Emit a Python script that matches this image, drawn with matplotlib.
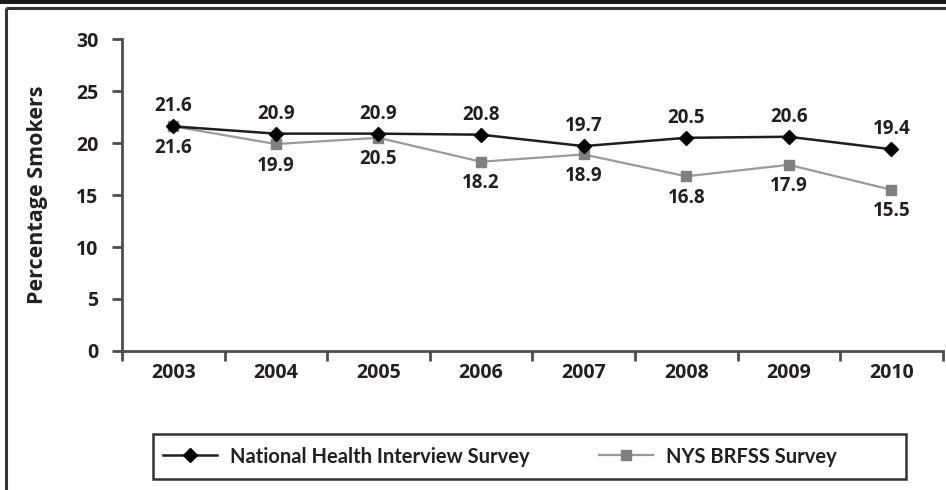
import matplotlib
matplotlib.use("Agg")
import matplotlib.pyplot as plt
from matplotlib.patches import Rectangle
from matplotlib.lines import Line2D

years = ["2003", "2004", "2005", "2006", "2007", "2008", "2009", "2010"]
nhis = [21.6, 20.9, 20.9, 20.8, 19.7, 20.5, 20.6, 19.4]
brfss = [21.6, 19.9, 20.5, 18.2, 18.9, 16.8, 17.9, 15.5]
yticks = [0, 5, 10, 15, 20, 25, 30]
series_names = ["National Health Interview Survey", "NYS BRFSS Survey"]

narrow = ["Lato", "DejaVu Sans"]
wide = ["Open Sans", "DejaVu Sans"]

TXT = "#231f20"
AX = "#4d4d4d"

fig = plt.figure(figsize=(9.46, 4.9), dpi=100)
W, H = 946, 490

# page decoration: black band and frame lines
fig.patches.append(Rectangle((0, 1 - 4 / H), 1, 4 / H, transform=fig.transFigure,
                             facecolor="#1a1a1a", edgecolor="none", zorder=0))
fig.add_artist(Line2D([6 / W, 1], [1 - 8 / H, 1 - 8 / H], transform=fig.transFigure,
                      color="#333333", lw=2.2, solid_capstyle="butt"))
fig.add_artist(Line2D([6 / W, 6 / W], [1 - 8 / H, 0], transform=fig.transFigure,
                      color="#333333", lw=2.2, solid_capstyle="butt"))

ax = fig.add_axes([122 / W, (H - 351) / H, (942.7 - 122) / W, (351 - 39) / H])
x = list(range(len(years)))

ax.plot(x, brfss, color="#9a9a9a", lw=1.6, marker="s", markersize=7,
        markerfacecolor="#808080", markeredgecolor="#808080", zorder=3,
        label=series_names[1])
ax.plot(x, nhis, color="#1e1e1e", lw=1.8, marker="D", markersize=7,
        markerfacecolor="#000000", markeredgecolor="#000000", zorder=4,
        label=series_names[0])

for xi, v in zip(x, nhis):
    ax.annotate(f"{v:.1f}", (xi, v), xytext=(0, 14.5), textcoords="offset points",
                ha="center", va="center", fontsize=13.5, color=TXT,
                family=wide, weight="bold")
for xi, v in zip(x, brfss):
    ax.annotate(f"{v:.1f}", (xi, v), xytext=(0, -15.5), textcoords="offset points",
                ha="center", va="center", fontsize=13.5, color=TXT,
                family=wide, weight="bold")

ax.set_xlim(-0.5, len(years) - 0.5)
ax.set_ylim(0, 30)
ax.set_yticks(yticks)
ax.set_yticklabels([str(t) for t in yticks], family=wide, weight="bold",
                   fontsize=14, color=TXT)
ax.set_xticks(x)
ax.set_xticklabels(years, family=wide, weight="bold", fontsize=14, color=TXT)
ax.set_xticks([i - 0.5 for i in range(len(years) + 1)], minor=True)
ax.tick_params(axis="x", which="major", length=0, pad=9)
ax.tick_params(axis="x", which="minor", length=7, width=2, color=AX, direction="out")
ax.tick_params(axis="y", which="major", length=7, width=2, color=AX, direction="out", pad=10)

for s in ["top", "right"]:
    ax.spines[s].set_visible(False)
for s in ["left", "bottom"]:
    ax.spines[s].set_color(AX)
    ax.spines[s].set_linewidth(2)

ax.set_ylabel("Percentage Smokers", family=wide, weight="bold", fontsize=15.5,
              color=TXT)
ax.yaxis.set_label_coords(-74 / (942.7 - 122), 0.5)

# legend box
fig.patches.append(Rectangle((153 / W, 1 - 479 / H), (906 - 153) / W, (479 - 434) / H,
                             transform=fig.transFigure, facecolor="white",
                             edgecolor="#333333", lw=1.8, zorder=1))
handles, labels = ax.get_legend_handles_labels()
order = [1, 0]
leg = fig.legend([handles[i] for i in order], [labels[i] for i in order],
                 loc="center left", bbox_to_anchor=(163 / W, 1 - 456.5 / H),
                 ncol=2, frameon=False, borderpad=0, borderaxespad=0,
                 handlelength=2.7, handletextpad=0.65, columnspacing=3.4,
                 prop={"family": narrow, "weight": "bold", "size": 14.5})
for t in leg.get_texts():
    t.set_color(TXT)
leg.set_zorder(2)

fig.savefig("out.png", dpi=100)
